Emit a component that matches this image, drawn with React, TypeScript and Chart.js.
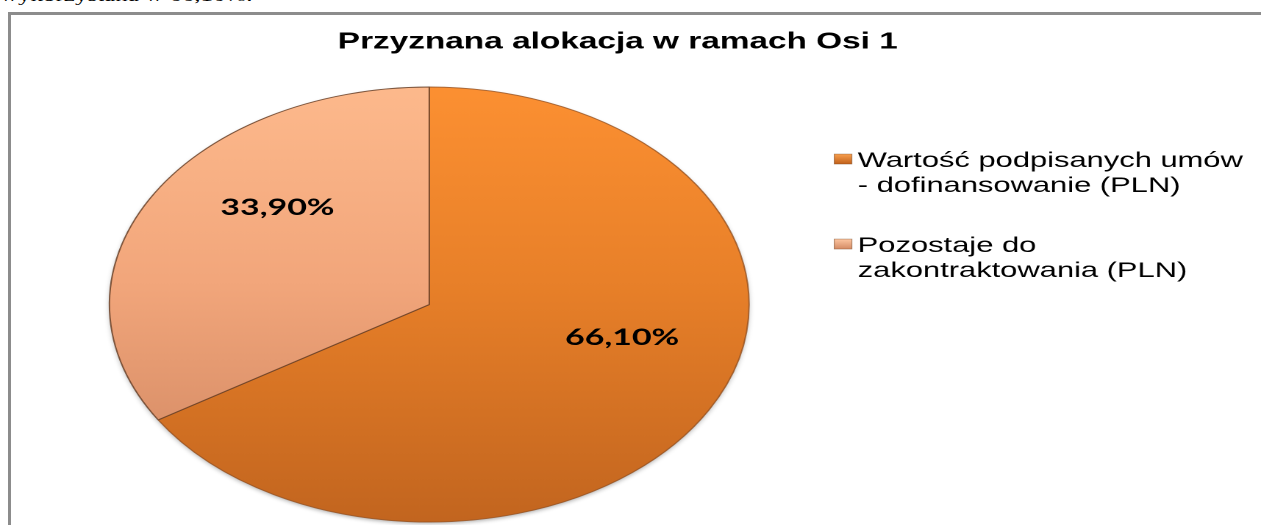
import React, { useEffect, useRef } from "react";
import { Chart, registerables, layouts } from "chart.js";

Chart.register(...registerables);

// ---- data ----
const TITLE = "Przyznana alokacja w ramach Osi 1";
const CAPTION = "wykorzystana w 66,10%.";
const CATEGORIES: string[][] = [
  ["Wartość podpisanych umów", "- dofinansowanie (PLN)"],
  ["Pozostaje do", "zakontraktowania (PLN)"],
];
const VALUES: number[] = [66.1, 33.9];

// ---- styles ----
const SLICE_STOPS: [number, string][][] = [
  [
    [0, "#fc9032"],
    [0.45, "#e88029"],
    [1, "#c2651f"],
  ],
  [
    [0, "#fdb98c"],
    [0.45, "#f2a67b"],
    [0.8, "#da9069"],
    [1, "#cc8560"],
  ],
];
const SLICE_BORDERS = ["rgba(150,80,30,0.8)", "rgba(105,65,40,0.85)"];
const SWATCH_STOPS: [string, string][] = [
  ["#f9a04e", "#c0601a"],
  ["#fdc6a2", "#d48a64"],
];

const SX = 1.47; // horizontal stretch of the reference picture
const WL = 850;
const HL = 510;

const makeGrad = (chart: any, stops: [number, string][]) => {
  const a = chart.chartArea;
  if (!a) return stops[0][1];
  const g = chart.ctx.createLinearGradient(0, a.top, 0, a.bottom);
  stops.forEach(([o, c]) => g.addColorStop(o, c));
  return g;
};

const sideLegendPlugin = {
  id: "sideLegend",
  beforeInit(chart: any) {
    const box: any = {
      position: "right",
      weight: 1000,
      fullSize: false,
      options: {},
      left: 0,
      top: 0,
      right: 0,
      bottom: 0,
      width: 0,
      height: 0,
      isHorizontal() {
        return false;
      },
      update(_mw: number, mh: number) {
        this.width = 256.4;
        this.height = mh;
      },
      draw() {
        const ctx = chart.ctx;
        ctx.save();
        ctx.font = '21px "Liberation Sans", Arial, sans-serif';
        ctx.textBaseline = "middle";
        ctx.textAlign = "left";
        ctx.fillStyle = "#000";
        CATEGORIES.forEach((lines, i) => {
          const y0 = this.top + 74.5 + i * 85;
          const mx = this.left;
          const my = y0 - 7;
          const g = ctx.createLinearGradient(0, my, 0, my + 10);
          g.addColorStop(0, SWATCH_STOPS[i][0]);
          g.addColorStop(1, SWATCH_STOPS[i][1]);
          ctx.fillStyle = g;
          ctx.fillRect(mx, my, 12, 10);
          ctx.strokeStyle = "rgba(120,70,35,0.6)";
          ctx.lineWidth = 0.6;
          ctx.strokeRect(mx, my, 12, 10);
          ctx.fillStyle = "#000";
          lines.forEach((t, j) => ctx.fillText(t, this.left + 16, y0 + j * 25));
        });
        ctx.restore();
      },
    };
    chart.$sideLegend = box;
    layouts.addBox(chart, box);
  },
};

const pieShadowPlugin = {
  id: "pieShadow",
  beforeDatasetsDraw(chart: any) {
    const meta = chart.getDatasetMeta(0);
    const arc = meta.data[0];
    if (!arc) return;
    const { x, y, outerRadius } = arc.getProps(["x", "y", "outerRadius"], true);
    const ctx = chart.ctx;
    ctx.save();
    ctx.shadowColor = "rgba(0,0,0,0.35)";
    ctx.shadowBlur = 8;
    ctx.shadowOffsetY = 4;
    ctx.fillStyle = "#c86a22";
    ctx.beginPath();
    ctx.arc(x, y, outerRadius - 0.5, 0, Math.PI * 2);
    ctx.fill();
    ctx.restore();
  },
};

const sliceLabelPlugin = {
  id: "sliceLabels",
  afterDatasetsDraw(chart: any) {
    const meta = chart.getDatasetMeta(0);
    const ctx = chart.ctx;
    ctx.save();
    ctx.font = 'bold 23px Lato, "Open Sans", sans-serif';
    ctx.fillStyle = "#000";
    ctx.textAlign = "center";
    ctx.textBaseline = "middle";
    meta.data.forEach((arc: any, i: number) => {
      const { x, y, startAngle, endAngle, outerRadius } = arc.getProps(
        ["x", "y", "startAngle", "endAngle", "outerRadius"],
        true
      );
      const mid = (startAngle + endAngle) / 2;
      const px = x + Math.cos(mid) * outerRadius * 0.616 + 14;
      const py = y + Math.sin(mid) * outerRadius * 0.616 - 32;
      const txt = VALUES[i].toFixed(2).replace(".", ",") + "%";
      ctx.fillText(txt, px, py);
    });
    ctx.restore();
  },
};

export default function App() {
  const ref = useRef<HTMLCanvasElement | null>(null);

  useEffect(() => {
    if (!ref.current) return;
    const chart = new Chart(ref.current, {
      type: "pie",
      data: {
        labels: CATEGORIES,
        datasets: [
          {
            data: VALUES,
            backgroundColor: (c: any) => makeGrad(c.chart, SLICE_STOPS[c.dataIndex]),
            borderColor: SLICE_BORDERS,
            borderWidth: 1,
          },
        ],
      },
      options: {
        responsive: false,
        devicePixelRatio: 2,
        animation: false,
        events: [],
        layout: { padding: { left: 9, right: 33.8, top: 0, bottom: 2.5 } },
        plugins: {
          legend: { display: false },
          tooltip: { enabled: false },
          title: {
            display: true,
            text: TITLE,
            color: "#000",
            font: { family: '"Liberation Sans", Arial, sans-serif', size: 22.7, weight: "bold" },
            padding: { top: 13.6, bottom: 30.7 },
          },
        },
      },
      plugins: [sideLegendPlugin, pieShadowPlugin, sliceLabelPlugin],
    } as any);
    return () => chart.destroy();
  }, []);

  return (
    <div
      style={{
        position: "fixed",
        left: 0,
        top: 0,
        width: 1261,
        height: 525,
        overflow: "hidden",
        background: "#fff",
      }}
    >
      <div
        style={{
          position: "absolute",
          left: 0,
          top: -13,
          fontFamily: '"Liberation Serif", "Times New Roman", serif',
          fontSize: 17,
          lineHeight: "17px",
          whiteSpace: "nowrap",
          color: "#000",
          transform: `scaleX(${SX})`,
          transformOrigin: "left top",
        }}
      >
        {CAPTION}
      </div>
      <div
        style={{
          position: "absolute",
          left: 8,
          top: 12,
          width: 1300,
          height: 600,
          border: "3px solid #8c8c8c",
          background: "#fff",
        }}
      >
        <canvas
          ref={ref}
          width={WL}
          height={HL}
          style={{ width: `${WL * SX}px`, height: `${HL}px`, display: "block" }}
        />
      </div>
    </div>
  );
}
